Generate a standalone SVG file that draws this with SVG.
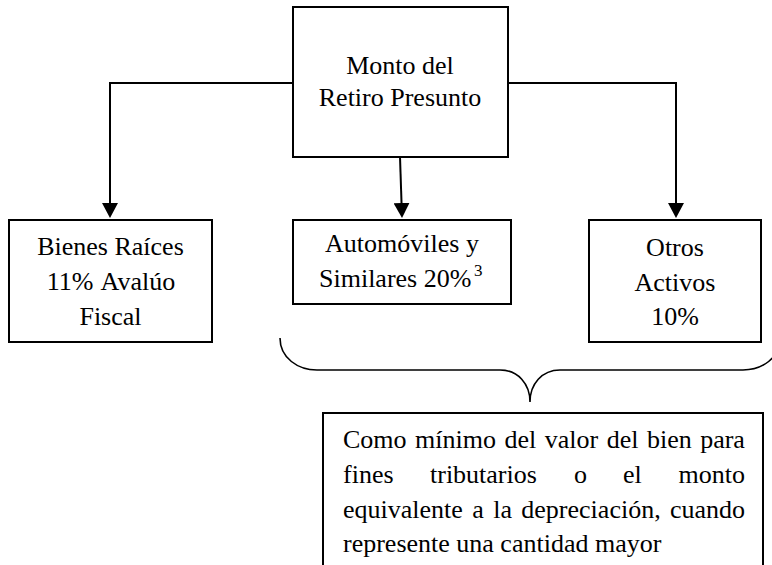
<svg xmlns="http://www.w3.org/2000/svg" width="772" height="565" viewBox="0 0 772 565">
<style>
.box{fill:#fff;stroke:#000;stroke-width:2}
.t{font-family:'Liberation Serif','Times New Roman',Tinos,'DejaVu Serif',serif;font-size:26px;fill:#000}
.c{text-anchor:middle}
.ln{fill:none;stroke:#000;stroke-width:2}
.br{fill:none;stroke:#000;stroke-width:1.6}
</style>
<defs>
<marker id="ah" viewBox="0 0 15 16" markerWidth="15" markerHeight="16" refX="2" refY="8" orient="auto" markerUnits="userSpaceOnUse">
<path d="M0,0 L15,8 L0,16 Z" fill="#000"/>
</marker>
</defs>
<rect width="772" height="565" fill="#fff"/>
<g id="connectors">
<path class="ln" d="M293,83 L110,83 L110,205" marker-end="url(#ah)"/>
<path class="ln" d="M508,83 L676,83 L676,205" marker-end="url(#ah)"/>
<path class="ln" d="M400,157 L401.6,205" marker-end="url(#ah)"/>
<path class="br" d="M280,338 C280,358 298,370 317,370 L500,370 C518,370 530,384 530,402 C530,384 542,370 560,370 L743,370 C762,370 780,358 780,338"/>
</g>
<g id="node-monto">
<rect class="box" x="293" y="7" width="215" height="150"/>
<text class="t c" x="400" y="74" font-family="Liberation Serif, serif">Monto del</text>
<text class="t c" x="400" y="106" font-family="Liberation Serif, serif">Retiro Presunto</text>
</g>
<g id="node-bienes">
<rect class="box" x="9" y="220" width="203" height="122"/>
<text class="t c" x="110.5" y="255">Bienes Raíces</text>
<text class="t c" x="111" y="290" word-spacing="2">11% Avalúo</text>
<text class="t c" x="110.5" y="325">Fiscal</text>
</g>
<g id="node-automoviles">
<rect class="box" x="293" y="220" width="218" height="84"/>
<text class="t c" x="402" y="252">Automóviles y</text>
<text class="t" x="319" y="287">Similares 20%</text>
<text class="t" x="474" y="276" style="font-size:17px">3</text>
</g>
<g id="node-otros">
<rect class="box" x="589" y="220" width="172" height="122"/>
<text class="t c" x="675" y="256">Otros</text>
<text class="t c" x="675" y="291">Activos</text>
<text class="t c" x="675" y="325">10%</text>
</g>
<g id="node-nota">
<rect class="box" x="323" y="413" width="440" height="200"/>
<text class="t" x="343" y="448" word-spacing="2">Como mínimo del valor del bien para</text>
<text class="t" x="343" y="483">fines</text>
<text class="t" x="430" y="483">tributarios</text>
<text class="t" x="574" y="483">o</text>
<text class="t" x="623" y="483">el</text>
<text class="t" x="745" y="483" text-anchor="end">monto</text>
<text class="t" x="343" y="518" word-spacing="2.9">equivalente a la depreciación, cuando</text>
<text class="t" x="343" y="552">represente una cantidad mayor</text>
</g>
</svg>
